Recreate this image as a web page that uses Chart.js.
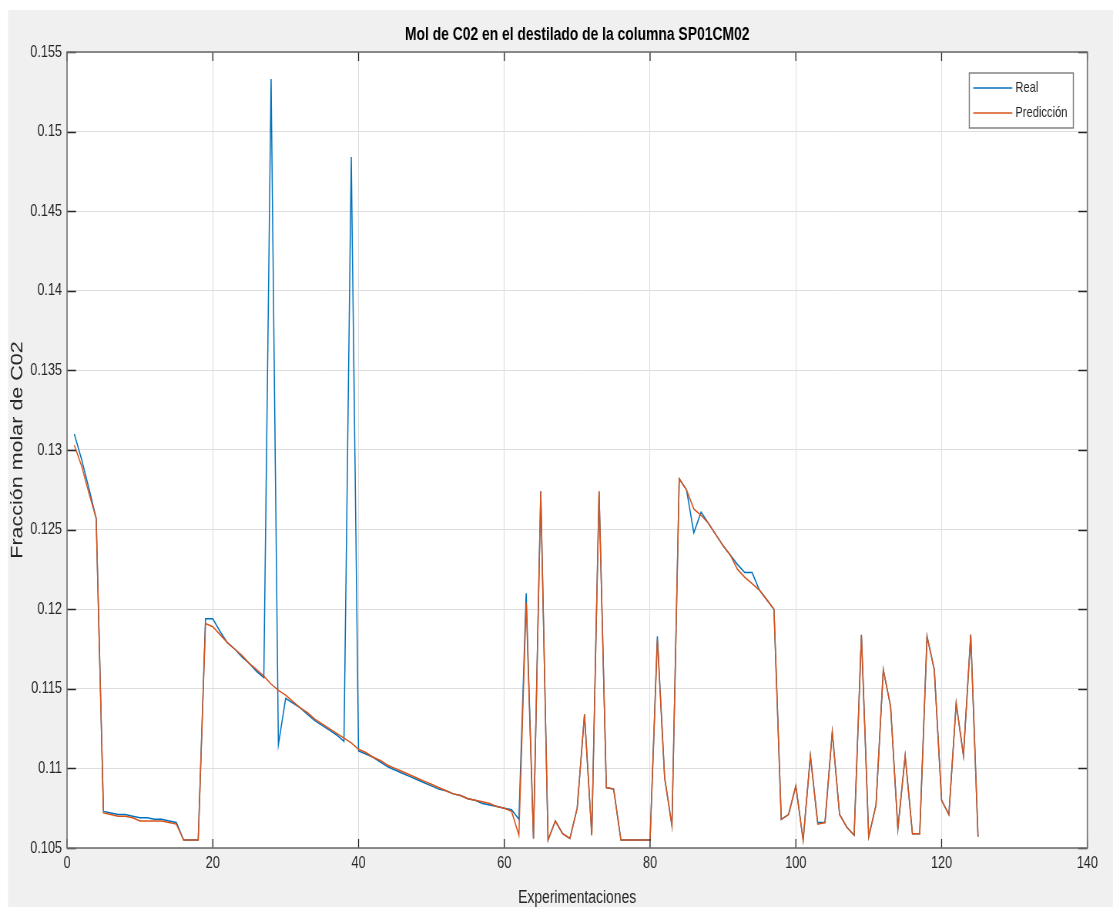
<!DOCTYPE html>
<html>
<head>
<meta charset="utf-8">
<script src="https://cdn.jsdelivr.net/npm/chart.js@4/dist/chart.umd.min.js"></script>
<style>
html, body { margin: 0; padding: 0; background: #fff; }
#wrap { position: absolute; left: 0; top: 0; width: 1113px; height: 909px; overflow: hidden; }
canvas { display: block; }
</style>
</head>
<body>
<div id="wrap"><canvas id="c" width="1445" height="909" style="width:1113px;height:909px"></canvas></div>
<script>
// the original figure is squeezed sideways, so the canvas is drawn wider and shown at 1113px
const SQUEEZE = 0.77
const font = "'Liberation Sans', Arial, Helvetica, sans-serif"

const chartTitle = 'Mol de C02 en el destilado de la columna SP01CM02'
const xTitle = 'Experimentaciones'
const yTitle = 'Fracción molar de C02'
const xTicks = [0, 20, 40, 60, 80, 100, 120, 140]
const yTicks = [0.105, 0.11, 0.115, 0.12, 0.125, 0.13, 0.135, 0.14, 0.145, 0.15, 0.155]

// experiment numbers 1..125
const experiments = Array.from({length: 125}, (_, i) => i + 1)

const real = [
  0.1310, 0.1294, 0.1276, 0.1257, 0.1073, 0.1072, 0.1071, 0.1071, 0.1070, 0.1069,
  0.1069, 0.1068, 0.1068, 0.1067, 0.1066, 0.1055, 0.1055, 0.1055, 0.1194, 0.1194,
  0.1186, 0.1179, 0.1175, 0.1170, 0.1166, 0.1161, 0.1157, 0.1533, 0.1115, 0.1144,
  0.1141, 0.1138, 0.1134, 0.1130, 0.1127, 0.1124, 0.1121, 0.1117, 0.1484, 0.1111,
  0.1109, 0.1107, 0.1104, 0.1101, 0.1099, 0.1097, 0.1095, 0.1093, 0.1091, 0.1089,
  0.1087, 0.1086, 0.1084, 0.1083, 0.1081, 0.1080, 0.1078, 0.1077, 0.1076, 0.1075,
  0.1074, 0.1068, 0.1210, 0.1056, 0.1274, 0.1055, 0.1067, 0.1059, 0.1056, 0.1075,
  0.1134, 0.1058, 0.1274, 0.1088, 0.1087, 0.1055, 0.1055, 0.1055, 0.1055, 0.1055,
  0.1183, 0.1094, 0.1064, 0.1282, 0.1275, 0.1248, 0.1261, 0.1254, 0.1247, 0.1240,
  0.1234, 0.1228, 0.1223, 0.1223, 0.1212, 0.1206, 0.1200, 0.1068, 0.1071, 0.1089,
  0.1055, 0.1108, 0.1066, 0.1066, 0.1123, 0.1071, 0.1063, 0.1058, 0.1184, 0.1057,
  0.1077, 0.1162, 0.1139, 0.1062, 0.1108, 0.1059, 0.1059, 0.1183, 0.1162, 0.1080,
  0.1071, 0.1141, 0.1108, 0.1184, 0.1057
]

const prediccion = [
  0.1303, 0.1290, 0.1273, 0.1257, 0.1072, 0.1071, 0.1070, 0.1070, 0.1069, 0.1067,
  0.1067, 0.1067, 0.1067, 0.1066, 0.1065, 0.1055, 0.1055, 0.1055, 0.1191, 0.1189,
  0.1184, 0.1179, 0.1175, 0.1171, 0.1166, 0.1162, 0.1158, 0.1153, 0.1149, 0.1146,
  0.1142, 0.1138, 0.1135, 0.1131, 0.1128, 0.1125, 0.1122, 0.1119, 0.1116, 0.1112,
  0.1110, 0.1107, 0.1105, 0.1102, 0.1100, 0.1098, 0.1096, 0.1094, 0.1092, 0.1090,
  0.1088, 0.1086, 0.1084, 0.1083, 0.1081, 0.1080, 0.1079, 0.1078, 0.1076, 0.1075,
  0.1073, 0.1058, 0.1204, 0.1056, 0.1274, 0.1055, 0.1067, 0.1059, 0.1056, 0.1075,
  0.1134, 0.1058, 0.1274, 0.1088, 0.1087, 0.1055, 0.1055, 0.1055, 0.1055, 0.1055,
  0.1181, 0.1094, 0.1064, 0.1282, 0.1275, 0.1263, 0.1259, 0.1254, 0.1247, 0.1240,
  0.1234, 0.1225, 0.1220, 0.1216, 0.1212, 0.1206, 0.1200, 0.1068, 0.1071, 0.1089,
  0.1055, 0.1108, 0.1065, 0.1066, 0.1123, 0.1071, 0.1063, 0.1058, 0.1184, 0.1057,
  0.1077, 0.1162, 0.1139, 0.1062, 0.1108, 0.1059, 0.1059, 0.1183, 0.1162, 0.1080,
  0.1071, 0.1141, 0.1108, 0.1184, 0.1057
]

function toPoints(vals) {
  return vals.map((v, i) => ({x: experiments[i], y: v}))
}

// grey figure background + white axes background
const background = {
  id: 'background',
  beforeDraw(chart) {
    const {ctx, chartArea: a, width, height} = chart
    ctx.save()
    ctx.fillStyle = '#fff'
    ctx.fillRect(0, 0, width, height)
    ctx.fillStyle = '#f0f0f0'
    ctx.fillRect(8 / SQUEEZE, 10, width, height - 12)
    ctx.fillStyle = '#fff'
    ctx.fillRect(a.left, a.top, a.width, a.height)
    ctx.restore()
  }
}

// matlab style box with inward ticks
const axesBox = {
  id: 'axesBox',
  afterDatasetsDraw(chart) {
    const {ctx, chartArea: a, scales: {x, y}} = chart
    ctx.save()
    ctx.strokeStyle = '#262626'
    ctx.lineWidth = 1.3
    const tl = 9, tw = 9 / SQUEEZE
    ctx.beginPath()
    x.ticks.forEach(t => {
      const px = x.getPixelForValue(t.value)
      ctx.moveTo(px, a.bottom); ctx.lineTo(px, a.bottom - tl)
      ctx.moveTo(px, a.top); ctx.lineTo(px, a.top + tl)
    })
    y.ticks.forEach(t => {
      const py = Math.round(y.getPixelForValue(t.value)) + 0.5
      ctx.moveTo(a.left, py); ctx.lineTo(a.left + tw, py)
      ctx.moveTo(a.right, py); ctx.lineTo(a.right - tw, py)
    })
    ctx.stroke()
    ctx.strokeStyle = '#707070'
    ctx.lineWidth = 1.6
    ctx.strokeRect(a.left, a.top, a.width, a.height)
    ctx.restore()
  }
}

const legendBox = {
  id: 'legendBox',
  afterDraw(chart) {
    const {ctx, chartArea: a} = chart
    const w = 104 / SQUEEZE, h = 55
    const x0 = a.right - 14 / SQUEEZE - w, y0 = a.top + 21
    ctx.save()
    ctx.fillStyle = '#fff'
    ctx.fillRect(x0, y0, w, h)
    ctx.strokeStyle = '#7a7a7a'
    ctx.lineWidth = 1.4
    ctx.strokeRect(x0, y0, w, h)
    ctx.font = '14.5px ' + font
    ctx.textBaseline = 'middle'
    chart.data.datasets.forEach((ds, i) => {
      const ly = y0 + 15 + i * 25
      ctx.strokeStyle = ds.borderColor
      ctx.lineWidth = 1.5
      ctx.beginPath()
      ctx.moveTo(x0 + 4 / SQUEEZE, ly)
      ctx.lineTo(x0 + 43 / SQUEEZE, ly)
      ctx.stroke()
      ctx.fillStyle = '#262626'
      ctx.fillText(ds.label, x0 + 46 / SQUEEZE, ly)
    })
    ctx.restore()
  }
}

Chart.defaults.font.family = font
Chart.defaults.color = '#262626'

const ctx = document.getElementById('c').getContext('2d')
const chart = new Chart(ctx, {
  type: 'line',
  data: {
    datasets: [{
      label: 'Real',
      data: toPoints(real),
      borderColor: '#0072BD',
      borderWidth: 1.5,
      pointRadius: 0,
      tension: 0,
      order: 1
    }, {
      label: 'Predicción',
      data: toPoints(prediccion),
      borderColor: '#D95319',
      borderWidth: 1.5,
      pointRadius: 0,
      tension: 0,
      order: 0
    }]
  },
  options: {
    responsive: false,
    animation: false,
    devicePixelRatio: 1,
    layout: {padding: {top: 10, left: 0, right: 1445 - 1087 / SQUEEZE, bottom: 0}},
    plugins: {
      legend: {display: false},
      tooltip: {enabled: false},
      title: {
        display: true,
        fullSize: false,
        text: chartTitle,
        color: '#000',
        font: {size: 18, weight: 'bold'},
        padding: {top: 14, bottom: 6.4}
      }
    },
    scales: {
      x: {
        type: 'linear',
        min: 0,
        max: 140,
        afterBuildTicks: s => { s.ticks = xTicks.map(v => ({value: v})) },
        afterFit: s => { s.height = 61 },
        grid: {color: '#dedede', drawTicks: false},
        border: {display: false},
        ticks: {font: {size: 16.5}, padding: 6, maxRotation: 0, callback: v => String(v)},
        title: {display: true, text: xTitle, font: {size: 18}, padding: {top: 0, bottom: 0}}
      },
      y: {
        min: 0.105,
        max: 0.155,
        afterBuildTicks: s => { s.ticks = yTicks.map(v => ({value: v})) },
        afterFit: s => { s.width = 67 / SQUEEZE },
        grid: {color: '#dedede', drawTicks: false},
        border: {display: false},
        ticks: {font: {size: 16.5}, padding: 6.5, callback: v => String(+v.toFixed(3))},
        title: {display: true, text: yTitle, font: {size: 21.5}, padding: {top: 10.5, bottom: 0}}
      }
    }
  },
  plugins: [background, axesBox, legendBox]
})
</script>
</body>
</html>
